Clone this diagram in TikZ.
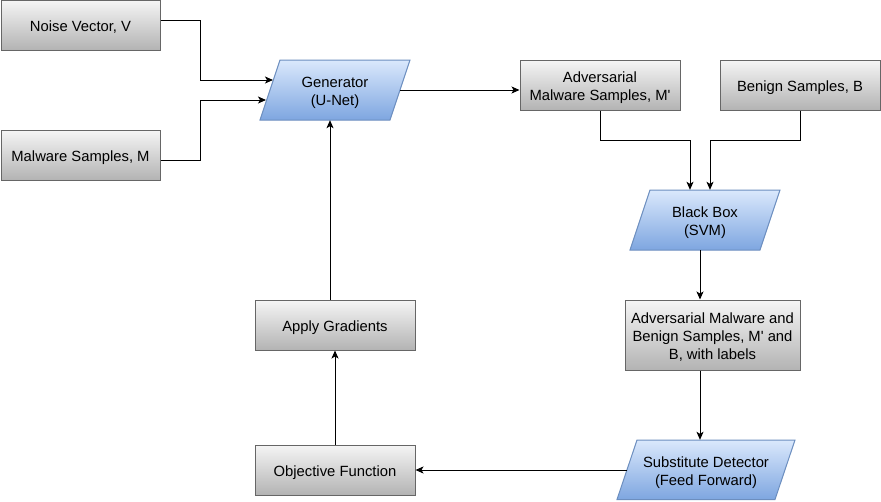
\documentclass[tikz,border=0pt]{standalone}
\usepackage{fontspec}
\setmainfont{Liberation Sans}
\usetikzlibrary{arrows.meta,calc}
\definecolor{gtop}{HTML}{F5F5F5}
\definecolor{gbot}{HTML}{B3B3B3}
\definecolor{gline}{HTML}{666666}
\definecolor{btop}{HTML}{DAE8FC}
\definecolor{bbot}{HTML}{7EA6E0}
\definecolor{bline}{HTML}{6C8EBF}
\newcommand{\mytxt}[1]{\raisebox{-3pt}[\height][\depth]{\begin{tabular}{@{}c@{}}#1\end{tabular}}}
\begin{document}
\begin{tikzpicture}[x=1pt,y=-1pt,
  font=\fontsize{14.8}{18}\selectfont,
  graybox/.style={draw=gline, line width=1pt, top color=gtop, bottom color=gbot,
    rectangle, inner sep=0pt, align=center},
  pgtext/.style={rectangle, inner sep=0pt, align=center, minimum height=60pt},
  pgshape/.style={draw=bline, line width=1pt, top color=btop, bottom color=bbot},
  conn/.style={line width=1pt, -{Stealth[length=8pt,width=7pt,inset=2pt]}}]
\useasboundingbox (0,0) rectangle (881,501);
% gray boxes
\node[graybox, minimum width=159pt, minimum height=50pt] (noise) at (80.5,25) {\mytxt{Noise Vector, V}};
\node[graybox, minimum width=159pt, minimum height=50pt] (mal) at (80.5,155) {\mytxt{Malware Samples, M}};
\node[graybox, minimum width=160pt, minimum height=50pt] (adv) at (600,85) {\mytxt{Adversarial\\Malware Samples, M\textquotesingle}};
\node[graybox, minimum width=160pt, minimum height=50pt] (ben) at (800,85) {\mytxt{Benign Samples, B}};
\node[graybox, minimum width=175pt, minimum height=70pt] (advben) at (712.5,335) {\mytxt{Adversarial Malware and\\Benign Samples, M\textquotesingle{} and\\B, with labels}};
\node[graybox, minimum width=160pt, minimum height=50pt] (apply) at (335,325) {\mytxt{Apply Gradients}};
\node[graybox, minimum width=160pt, minimum height=50pt] (obj) at (335,470) {\mytxt{Objective Function}};
% parallelograms
\path[pgshape] (280,60) -- (410,60) -- (390,120) -- (260,120) -- cycle;
\node[pgtext, minimum width=130pt] (gen) at (335,90) {\mytxt{Generator\\(U-Net)}};
\path[pgshape] (650,190) -- (780,190) -- (760,250) -- (630,250) -- cycle;
\node[pgtext, minimum width=130pt] (bb) at (705,220) {\mytxt{Black Box\\(SVM)}};
\path[pgshape] (637,440) -- (795,440) -- (775,499.5) -- (617,499.5) -- cycle;
\node[pgtext, minimum width=158pt] (sub) at (706,470) {\mytxt{Substitute Detector\\(Feed Forward)}};
% connectors
\coordinate (genin1) at (273,80);
\coordinate (genin2) at (266,100);
\draw[conn] ($(noise.east)+(0,-5)$) -- (200,20) |- (genin1);
\draw[conn] ($(mal.east)+(0,5)$) -- (200,160) |- (genin2);
\draw[conn] (gen.east) -- ($(adv.west)+(0,5)$);
\draw[conn] (adv.south) -- (600,140) -| ($(bb.north)+(-15,0)$);
\draw[conn] (ben.south) -- (800,140) -| ($(bb.north)+(5,0)$);
\draw[conn] ($(bb.south)+(-5,0)$) -- ($(advben.north)+(-12.5,0)$);
\draw[conn] ($(advben.south)+(-12.5,0)$) -- ($(sub.north)+(-6,0)$);
\draw[conn] (sub.west) -- (obj.east);
\draw[conn] (obj.north) -- (apply.south);
\draw[conn] ($(apply.north)+(-5,0)$) -- ($(gen.south)+(-5,0)$);
\end{tikzpicture}
\end{document}
